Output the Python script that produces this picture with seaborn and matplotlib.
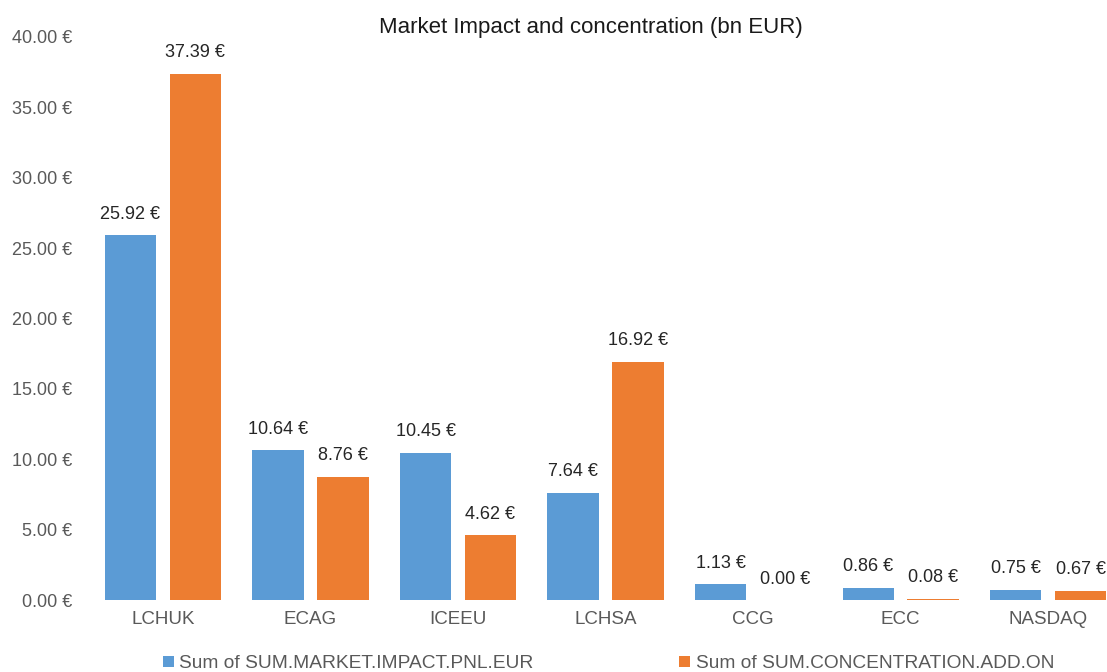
import matplotlib.pyplot as plt
import seaborn as sns
import pandas as pd

categories = ['LCHUK', 'ECAG', 'ICEEU', 'LCHSA', 'CCG', 'ECC', 'NASDAQ']
market_impact = [25.92, 10.64, 10.45, 7.64, 1.13, 0.86, 0.75]
concentration = [37.39, 8.76, 4.62, 16.92, 0.00, 0.08, 0.67]
series_names = ['Sum of SUM.MARKET.IMPACT.PNL.EUR',
                'Sum of SUM.CONCENTRATION.ADD.ON']
y_ticks = [0, 5, 10, 15, 20, 25, 30, 35, 40]

df = pd.DataFrame({
    'category': categories * 2,
    'value': market_impact + concentration,
    'series': [series_names[0]] * len(categories) + [series_names[1]] * len(categories),
})

sns.set_style('white')
plt.rcParams['font.family'] = ['Liberation Sans', 'DejaVu Sans']

fig = plt.figure(figsize=(11.07, 6.72), dpi=100)
ax = fig.add_axes([0.0805, 0.107, 0.933, 0.838])

sns.barplot(data=df, x='category', y='value', hue='series',
            palette=['#5B9BD5', '#ED7D31'], width=0.88, gap=0.21,
            saturation=1, linewidth=0, ax=ax)

for cont in ax.containers:
    ax.bar_label(cont, fmt=lambda v: f'{v:.2f} €', padding=9,
                 fontsize=13, color='#262626')

ax.set_ylim(0, 40)
ax.set_yticks(y_ticks)
ax.set_yticklabels([f'{t:.2f} €' for t in y_ticks])
ax.set_xlim(-0.5, len(categories) - 0.5)
ax.set_xlabel('')
ax.set_ylabel('')
ax.tick_params(axis='x', length=0, labelsize=13.5, colors='#595959', pad=8)
ax.tick_params(axis='y', length=0, labelsize=13, colors='#595959', pad=12)
sns.despine(ax=ax, left=True, bottom=True)

handles, labels = ax.get_legend_handles_labels()
ax.get_legend().remove()
fig.legend(handles, labels, loc='center', bbox_to_anchor=(0.5497, 0.012),
           ncol=2, frameon=False, fontsize=13.8, labelcolor='#595959',
           handlelength=0.55, handleheight=0.55, handletextpad=0.3,
           columnspacing=7.6)

fig.text(0.534, 1 - 27 / 672, 'Market Impact and concentration (bn EUR)',
         ha='center', va='center', fontsize=16, color='#1a1a1a')

fig.savefig('out.png', dpi=100)
